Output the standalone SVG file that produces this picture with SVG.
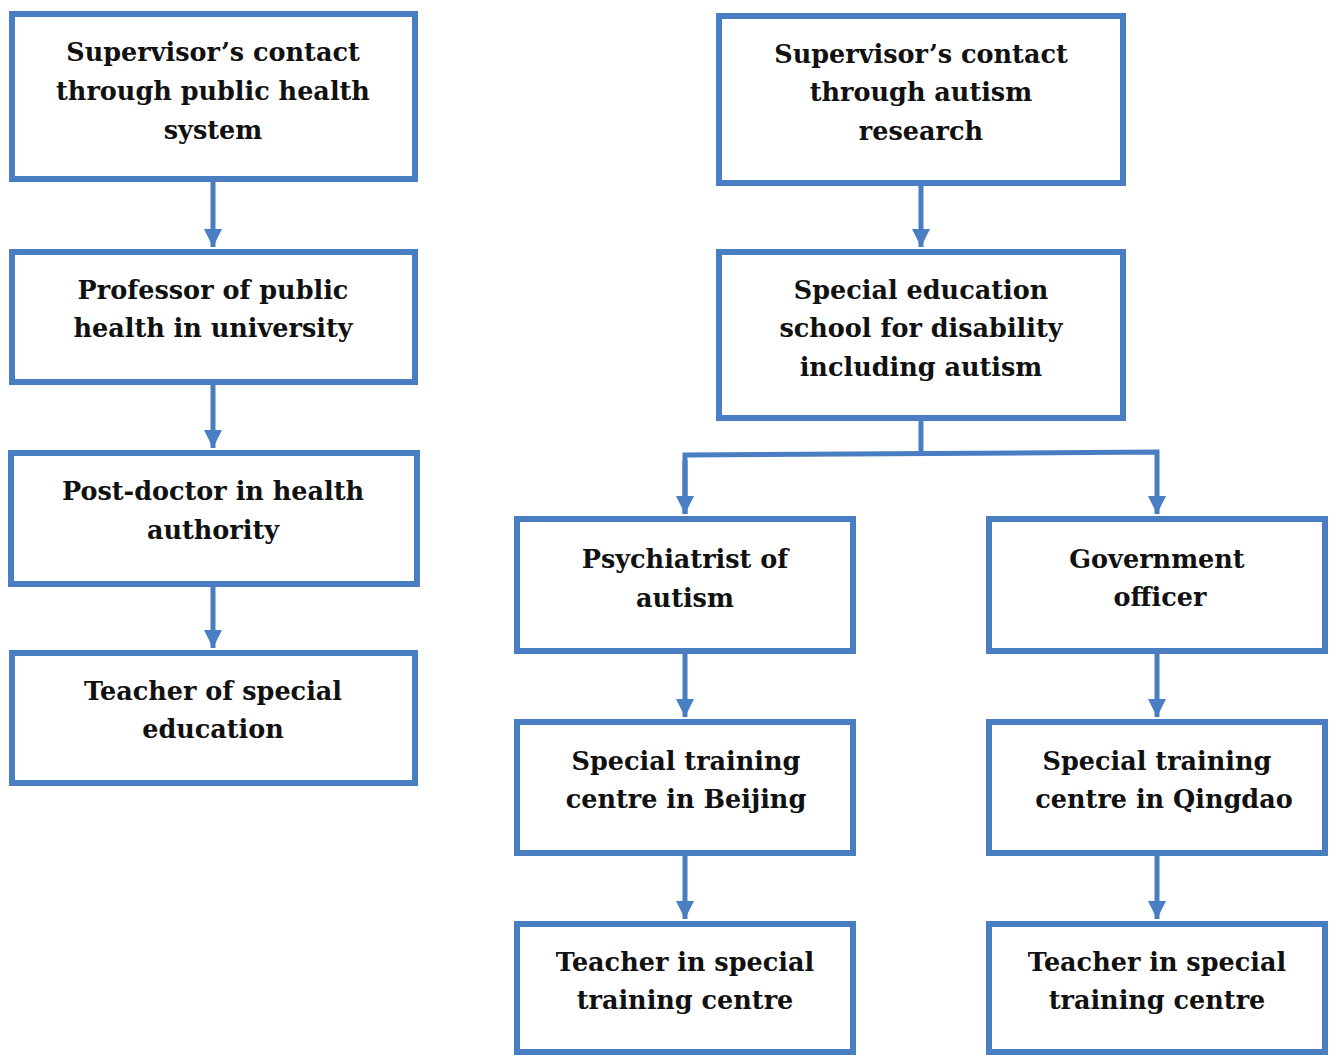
<svg xmlns="http://www.w3.org/2000/svg" width="1330" height="1055" viewBox="0 0 1330 1055">
<defs>
<style>
.box{fill:#fff;stroke:#4a7ec2;stroke-width:6}
.t{font-family:'DejaVu Serif',serif;font-weight:700;font-size:25.5px;fill:#111;text-anchor:middle}
.c{fill:none;stroke:#4a7ec2;stroke-width:5}
</style>
<marker id="ah" viewBox="0 0 10 10" refX="10" refY="5" markerWidth="4" markerHeight="3.6" orient="auto" markerUnits="strokeWidth">
<path d="M0,0 L10,5 L0,10 Z" fill="#4a7ec2"/>
</marker>
</defs>
<rect width="1330" height="1055" fill="#fff"/>
<g id="connectors">
<path class="c" d="M213,182 V247" marker-end="url(#ah)"/>
<path class="c" d="M213,385 V448" marker-end="url(#ah)"/>
<path class="c" d="M213,587 V648" marker-end="url(#ah)"/>
<path class="c" d="M921,186 V247" marker-end="url(#ah)"/>
<path class="c" d="M921,421 V453"/>
<path class="c" d="M685,514 V455 L1157,452 V514" marker-end="url(#ah)"/>
<path class="c" d="M685,460 V514" marker-end="url(#ah)"/>
<path class="c" d="M685,654 V717" marker-end="url(#ah)"/>
<path class="c" d="M1157,654 V717" marker-end="url(#ah)"/>
<path class="c" d="M685,856 V919" marker-end="url(#ah)"/>
<path class="c" d="M1157,856 V919" marker-end="url(#ah)"/>
</g>
<g id="n1"><rect class="box" x="12" y="14" width="403" height="165"/>
<text class="t" x="213" y="61">Supervisor’s contact</text><text class="t" x="213" y="100">through public health</text><text class="t" x="213" y="139">system</text></g>
<g id="n2"><rect class="box" x="12" y="252" width="403" height="130"/>
<text class="t" x="213" y="299">Professor of public</text><text class="t" x="213" y="337">health in university</text></g>
<g id="n3"><rect class="box" x="11" y="453" width="406" height="131"/>
<text class="t" x="213" y="500">Post-doctor in health</text><text class="t" x="213" y="539">authority</text></g>
<g id="n4"><rect class="box" x="12" y="653" width="403" height="130"/>
<text class="t" x="213" y="700">Teacher of special</text><text class="t" x="213" y="738">education</text></g>
<g id="n5"><rect class="box" x="719" y="16" width="404" height="167"/>
<text class="t" x="921" y="63">Supervisor’s contact</text><text class="t" x="921" y="101">through autism</text><text class="t" x="921" y="140">research</text></g>
<g id="n6"><rect class="box" x="719" y="252" width="404" height="166"/>
<text class="t" x="921" y="299">Special education</text><text class="t" x="921" y="337">school for disability</text><text class="t" x="921" y="376">including autism</text></g>
<g id="n7"><rect class="box" x="517" y="519" width="336" height="132"/>
<text class="t" x="685" y="568">Psychiatrist of</text><text class="t" x="685" y="607">autism</text></g>
<g id="n8"><rect class="box" x="989" y="519" width="336" height="132"/>
<text class="t" x="1157" y="568">Government</text><text class="t" x="1160" y="606">officer</text></g>
<g id="n9"><rect class="box" x="517" y="722" width="336" height="131"/>
<text class="t" x="686" y="770">Special training</text><text class="t" x="686" y="808">centre in Beijing</text></g>
<g id="n10"><rect class="box" x="989" y="722" width="336" height="131"/>
<text class="t" x="1157" y="770">Special training</text><text class="t" x="1164" y="808">centre in Qingdao</text></g>
<g id="n11"><rect class="box" x="517" y="924" width="336" height="128"/>
<text class="t" x="685" y="971">Teacher in special</text><text class="t" x="685" y="1009">training centre</text></g>
<g id="n12"><rect class="box" x="989" y="924" width="336" height="128"/>
<text class="t" x="1157" y="971">Teacher in special</text><text class="t" x="1157" y="1009">training centre</text></g>
</svg>
